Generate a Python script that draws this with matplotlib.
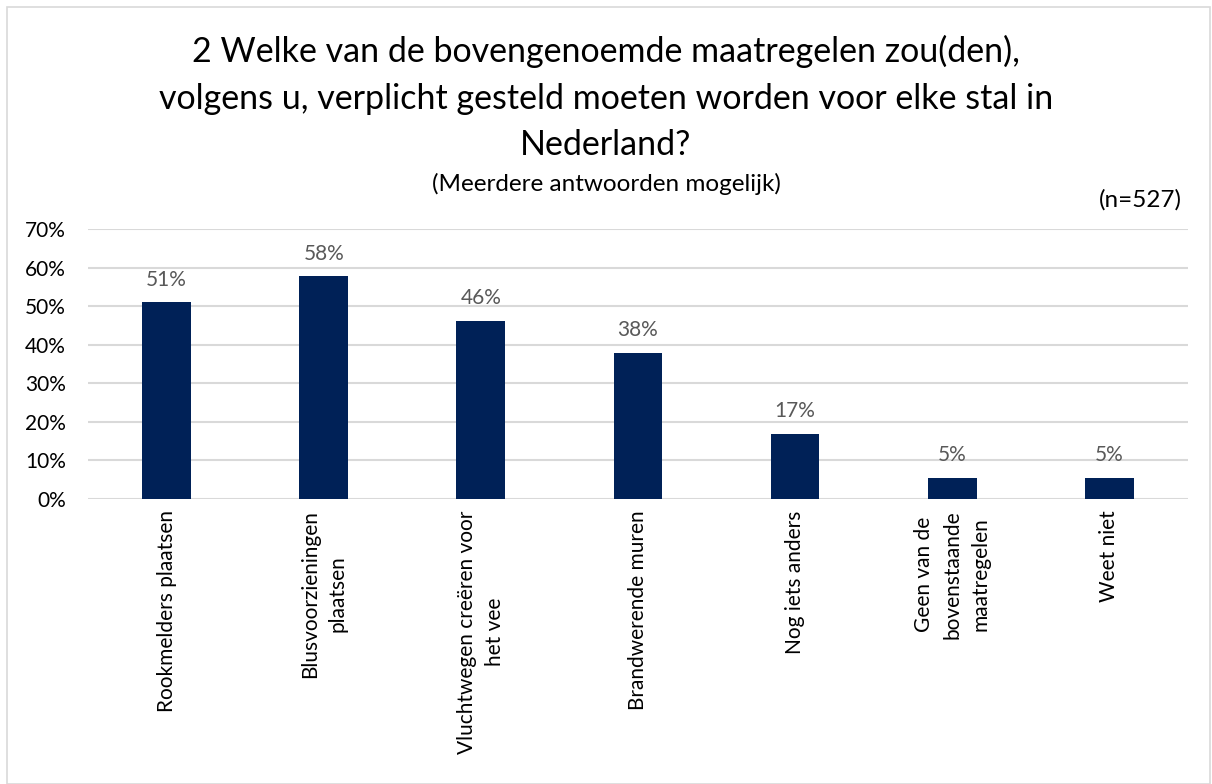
import matplotlib
matplotlib.use("Agg")
import matplotlib.pyplot as plt
from matplotlib.patches import Rectangle
from matplotlib.ticker import PercentFormatter

plt.rcParams['font.family'] = ['Lato', 'DejaVu Sans']

categories = [
    "Rookmelders plaatsen",
    "Blusvoorzieningen\nplaatsen",
    "Vluchtwegen creëren voor\nhet vee",
    "Brandwerende muren",
    "Nog iets anders",
    "Geen van de\nbovenstaande\nmaatregelen",
    "Weet niet",
]
values = [0.51, 0.577, 0.461, 0.378, 0.168, 0.054, 0.054]
labels = ["51%", "58%", "46%", "38%", "17%", "5%", "5%"]

title = ("2 Welke van de bovengenoemde maatregelen zou(den),\n"
         "volgens u, verplicht gesteld moeten worden voor elke stal in\n"
         "Nederland?")
subtitle = "(Meerdere antwoorden mogelijk)"
n_text = "(n=527)"

fig = plt.figure(figsize=(12.12, 7.84), dpi=100)
ax = fig.add_axes([0.0726, 0.3635, 0.9076, 0.3444])

x = range(len(categories))
ax.bar(x, values, width=0.31, color="#002157", zorder=3)
for xi, v, lab in zip(x, values, labels):
    ax.text(xi, v + 0.033, lab, ha="center", va="bottom", fontsize=15, color="#595959")

ax.set_xlim(-0.5, len(categories) - 0.5)
ax.set_ylim(0, 0.7)
ax.set_yticks([i / 10 for i in range(8)])
ax.yaxis.set_major_formatter(PercentFormatter(1.0, decimals=0))
ax.grid(axis="y", color="#d9d9d9", linewidth=1.5, zorder=0)
for s in ax.spines.values():
    s.set_visible(False)
ax.tick_params(axis="both", length=0, labelsize=15, colors="#000000")
ax.tick_params(axis="y", pad=16)
ax.tick_params(axis="x", pad=8)
ax.set_xticks(list(x))
ax.set_xticklabels(categories, rotation=90, va="top", ha="center", fontsize=15,
                   linespacing=1.5)

fig.text(0.5, 0.955, title, ha="center", va="top", fontsize=24.5, linespacing=1.55)
fig.text(0.5, 0.766, subtitle, ha="center", va="center", fontsize=17.5)
fig.text(0.975, 0.745, n_text, ha="right", va="center", fontsize=17.5)

fig.patches.append(Rectangle((0.006, 0.0), 0.992, 0.991, transform=fig.transFigure,
                             fill=False, edgecolor="#d9d9d9", linewidth=1.2))

fig.savefig("out.png", dpi=100)
